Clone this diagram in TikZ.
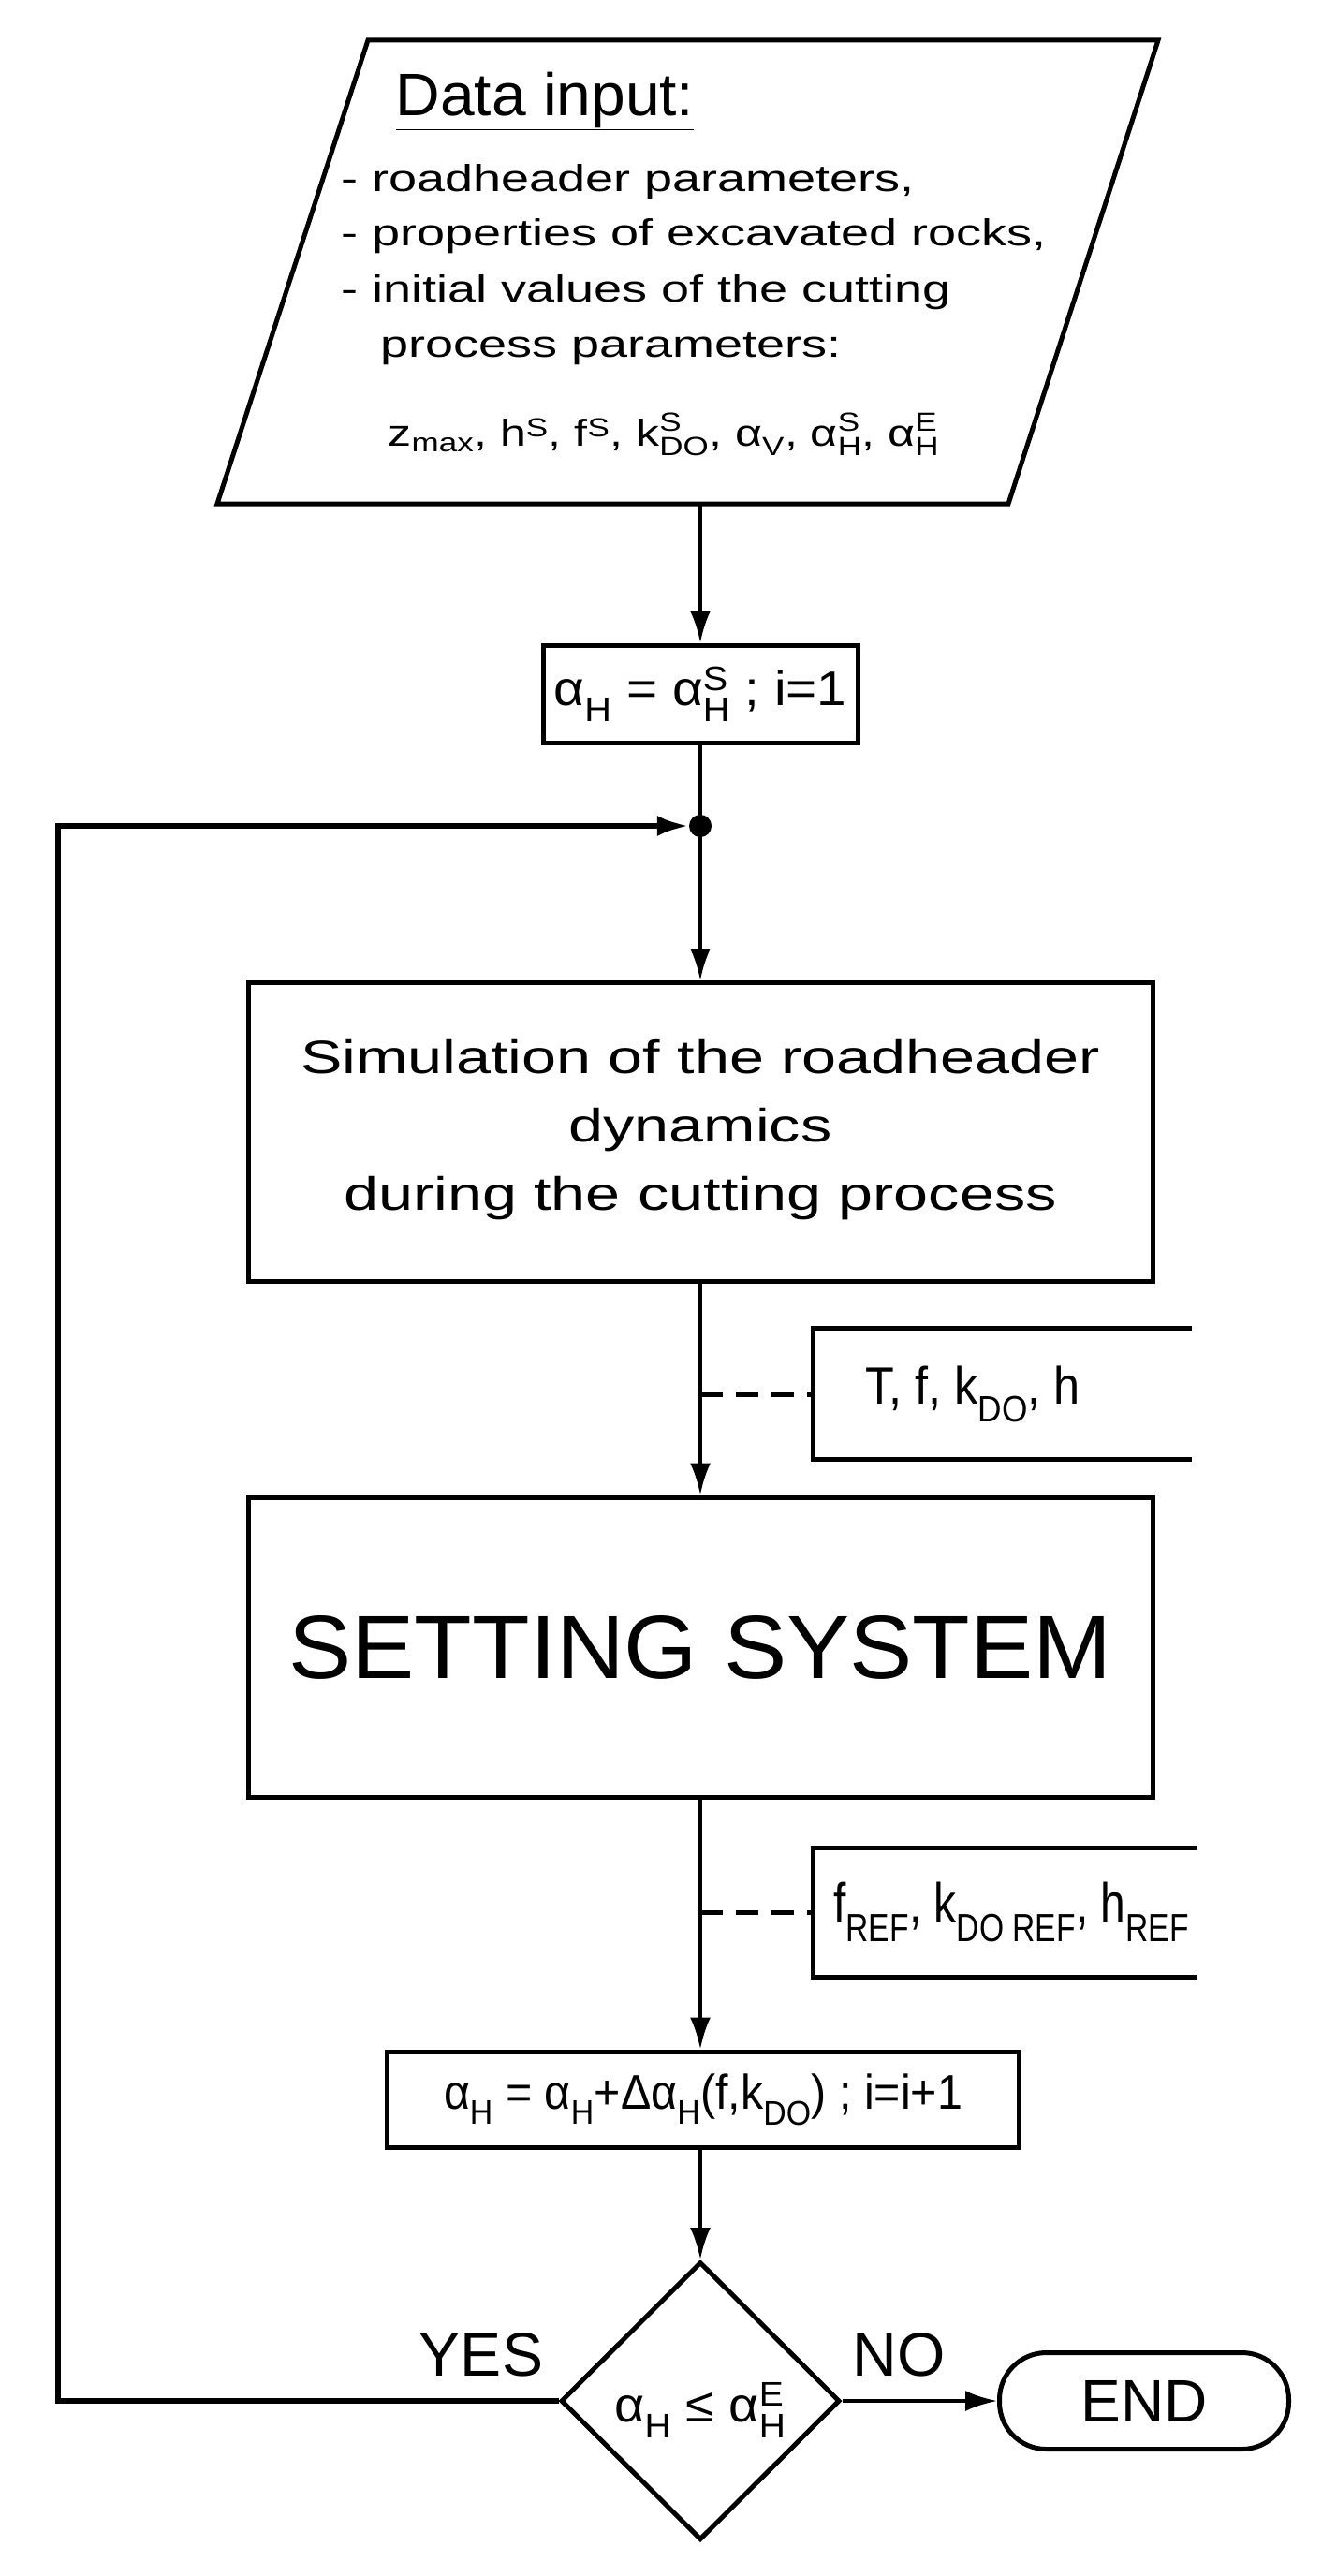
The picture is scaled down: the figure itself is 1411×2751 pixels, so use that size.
\documentclass[tikz,border=0pt]{standalone}
\usepackage{fontspec}
\setmainfont{Liberation Sans}
\usetikzlibrary{shapes.geometric,arrows.meta}
\newcommand{\su}[2]{\rlap{\raisebox{0.15em}{\textsuperscript{#1}}}\textsubscript{#2}}
\newcommand{\fs}[1]{\fontsize{#1}{#1}\selectfont}
\newcommand{\hs}[2]{\scalebox{#1}[1]{#2}}
\begin{document}
\begin{tikzpicture}[x=1pt,y=-1pt,
  box/.style={draw,line width=5pt,rectangle,inner sep=0pt,align=center},
  conn/.style={line width=4pt,-{Latex[length=34pt,width=22pt]}},
  plain/.style={line width=4pt},
  dsh/.style={line width=5pt,dash pattern=on 24pt off 14pt},
  txt/.style={inner sep=0pt,anchor=base west}]
\useasboundingbox (0,0) rectangle (1411,2751);
% input parallelogram
\draw[line width=5pt,line join=miter] (393,43) -- (1237,43) -- (1077,538) -- (232,538) -- cycle;
\node[inner sep=0pt,anchor=base] (ti) at (582,124) {\hs{1.03}{\fs{64}\underline{Data input:}}};
\node[txt] (l1) at (364,204) {\hs{1.35}{\fs{40}- roadheader parameters,}};
\node[txt] (l2) at (364,262) {\hs{1.35}{\fs{40}- properties of excavated rocks,}};
\node[txt] (l3) at (364,322) {\hs{1.35}{\fs{40}- initial values of the cutting}};
\node[txt] (l4) at (406,381) {\hs{1.35}{\fs{40}process parameters:}};
\node[inner sep=0pt,anchor=base] (l5) at (709,476) {\hs{1.25}{\fs{40}z\textsubscript{max}, h\textsuperscript{S}, f\textsuperscript{S}, k\su{S}{DO}, α\textsubscript{V}, α\su{S}{H}, α\su{E}{H}}};
\coordinate (inb) at (748,538);
% box1
\node[box,minimum width=336pt,minimum height=104pt] (b1) at (748,741) {\hs{1.09}{\fs{52}α\textsubscript{H} = α\su{S}{H} ; i=1}};
\node[circle,fill,inner sep=0pt,minimum size=24pt] (dot) at (748,882) {};
\node[box,minimum width=966pt,minimum height=319pt] (sim) at (748,1209) {\hs{1.33}{\fs{50}\begin{tabular}{@{}c@{}}Simulation of the roadheader\\[22pt] dynamics\\[22pt] during the cutting process\end{tabular}}};
\node[box,minimum width=966pt,minimum height=320pt] (set) at (748,1759) {\hs{1.05}{\fs{96}SETTING SYSTEM}};
\node[box,minimum width=675pt,minimum height=102pt] (b3) at (751,2242) {\hs{0.93}{\fs{52}α\textsubscript{H} = α\textsubscript{H}+Δα\textsubscript{H}(f,k\textsubscript{DO}) ; i=i+1}};
\node[draw,line width=5pt,diamond,inner sep=0pt,minimum width=298pt,minimum height=297pt] (dia) at (748,2564) {};
\node[inner sep=0pt] (dt) at (748,2574) {\hs{1.07}{\fs{52}α\textsubscript{H} ≤ α\su{E}{H}}};
\node[draw,line width=5pt,rounded corners=50pt,minimum width=309pt,minimum height=103pt,inner sep=0pt] (end) at (1222,2564) {\fs{64}END};
\node[inner sep=0pt,anchor=base] (yes) at (514,2537) {\fs{66}YES};
\node[inner sep=0pt,anchor=base] (no) at (960,2537) {\fs{66}NO};
% side boxes
\draw[line width=5pt] (1273,1418) -- (868,1418) -- (868,1558) -- (1273,1558);
\node[inner sep=0pt,anchor=west] (s1) at (868,1489) {\hspace*{56pt}\hs{0.9}{\fs{56}T, f, k\textsubscript{DO}, h}};
\draw[line width=5pt] (1279,1973) -- (868,1973) -- (868,2111) -- (1279,2111);
\node[inner sep=0pt,anchor=west] (s2) at (868,2042) {\hspace*{22pt}\hs{0.8}{\fs{60}f\textsubscript{REF}, k\textsubscript{DO REF}, h\textsubscript{REF}}};
\coordinate (j1) at (748,1489);
\coordinate (j2) at (748,2042);
\coordinate (c1) at (62,2564);
\coordinate (c2) at (62,882);
% connectors
\draw[conn] (inb) -- (b1.north);
\draw[plain] (b1.south) -- (dot.center);
\draw[conn] (dot.center) -- (sim.north);
\draw[conn] (sim.south) -- (set.north);
\draw[conn] (set.south) -- (b3.north -| set.south);
\draw[conn] (b3.south -| dia.north) -- (dia.north);
\draw[conn] (dia.east) -- (end.west);
\draw[line width=6pt,-{Latex[length=34pt,width=22pt]}] (dia.west) -- (c1) -- (c2) -- (dot.west);
\draw[dsh] (j1) -- (s1.west);
\draw[dsh] (j2) -- (s2.west);
\end{tikzpicture}
\end{document}
